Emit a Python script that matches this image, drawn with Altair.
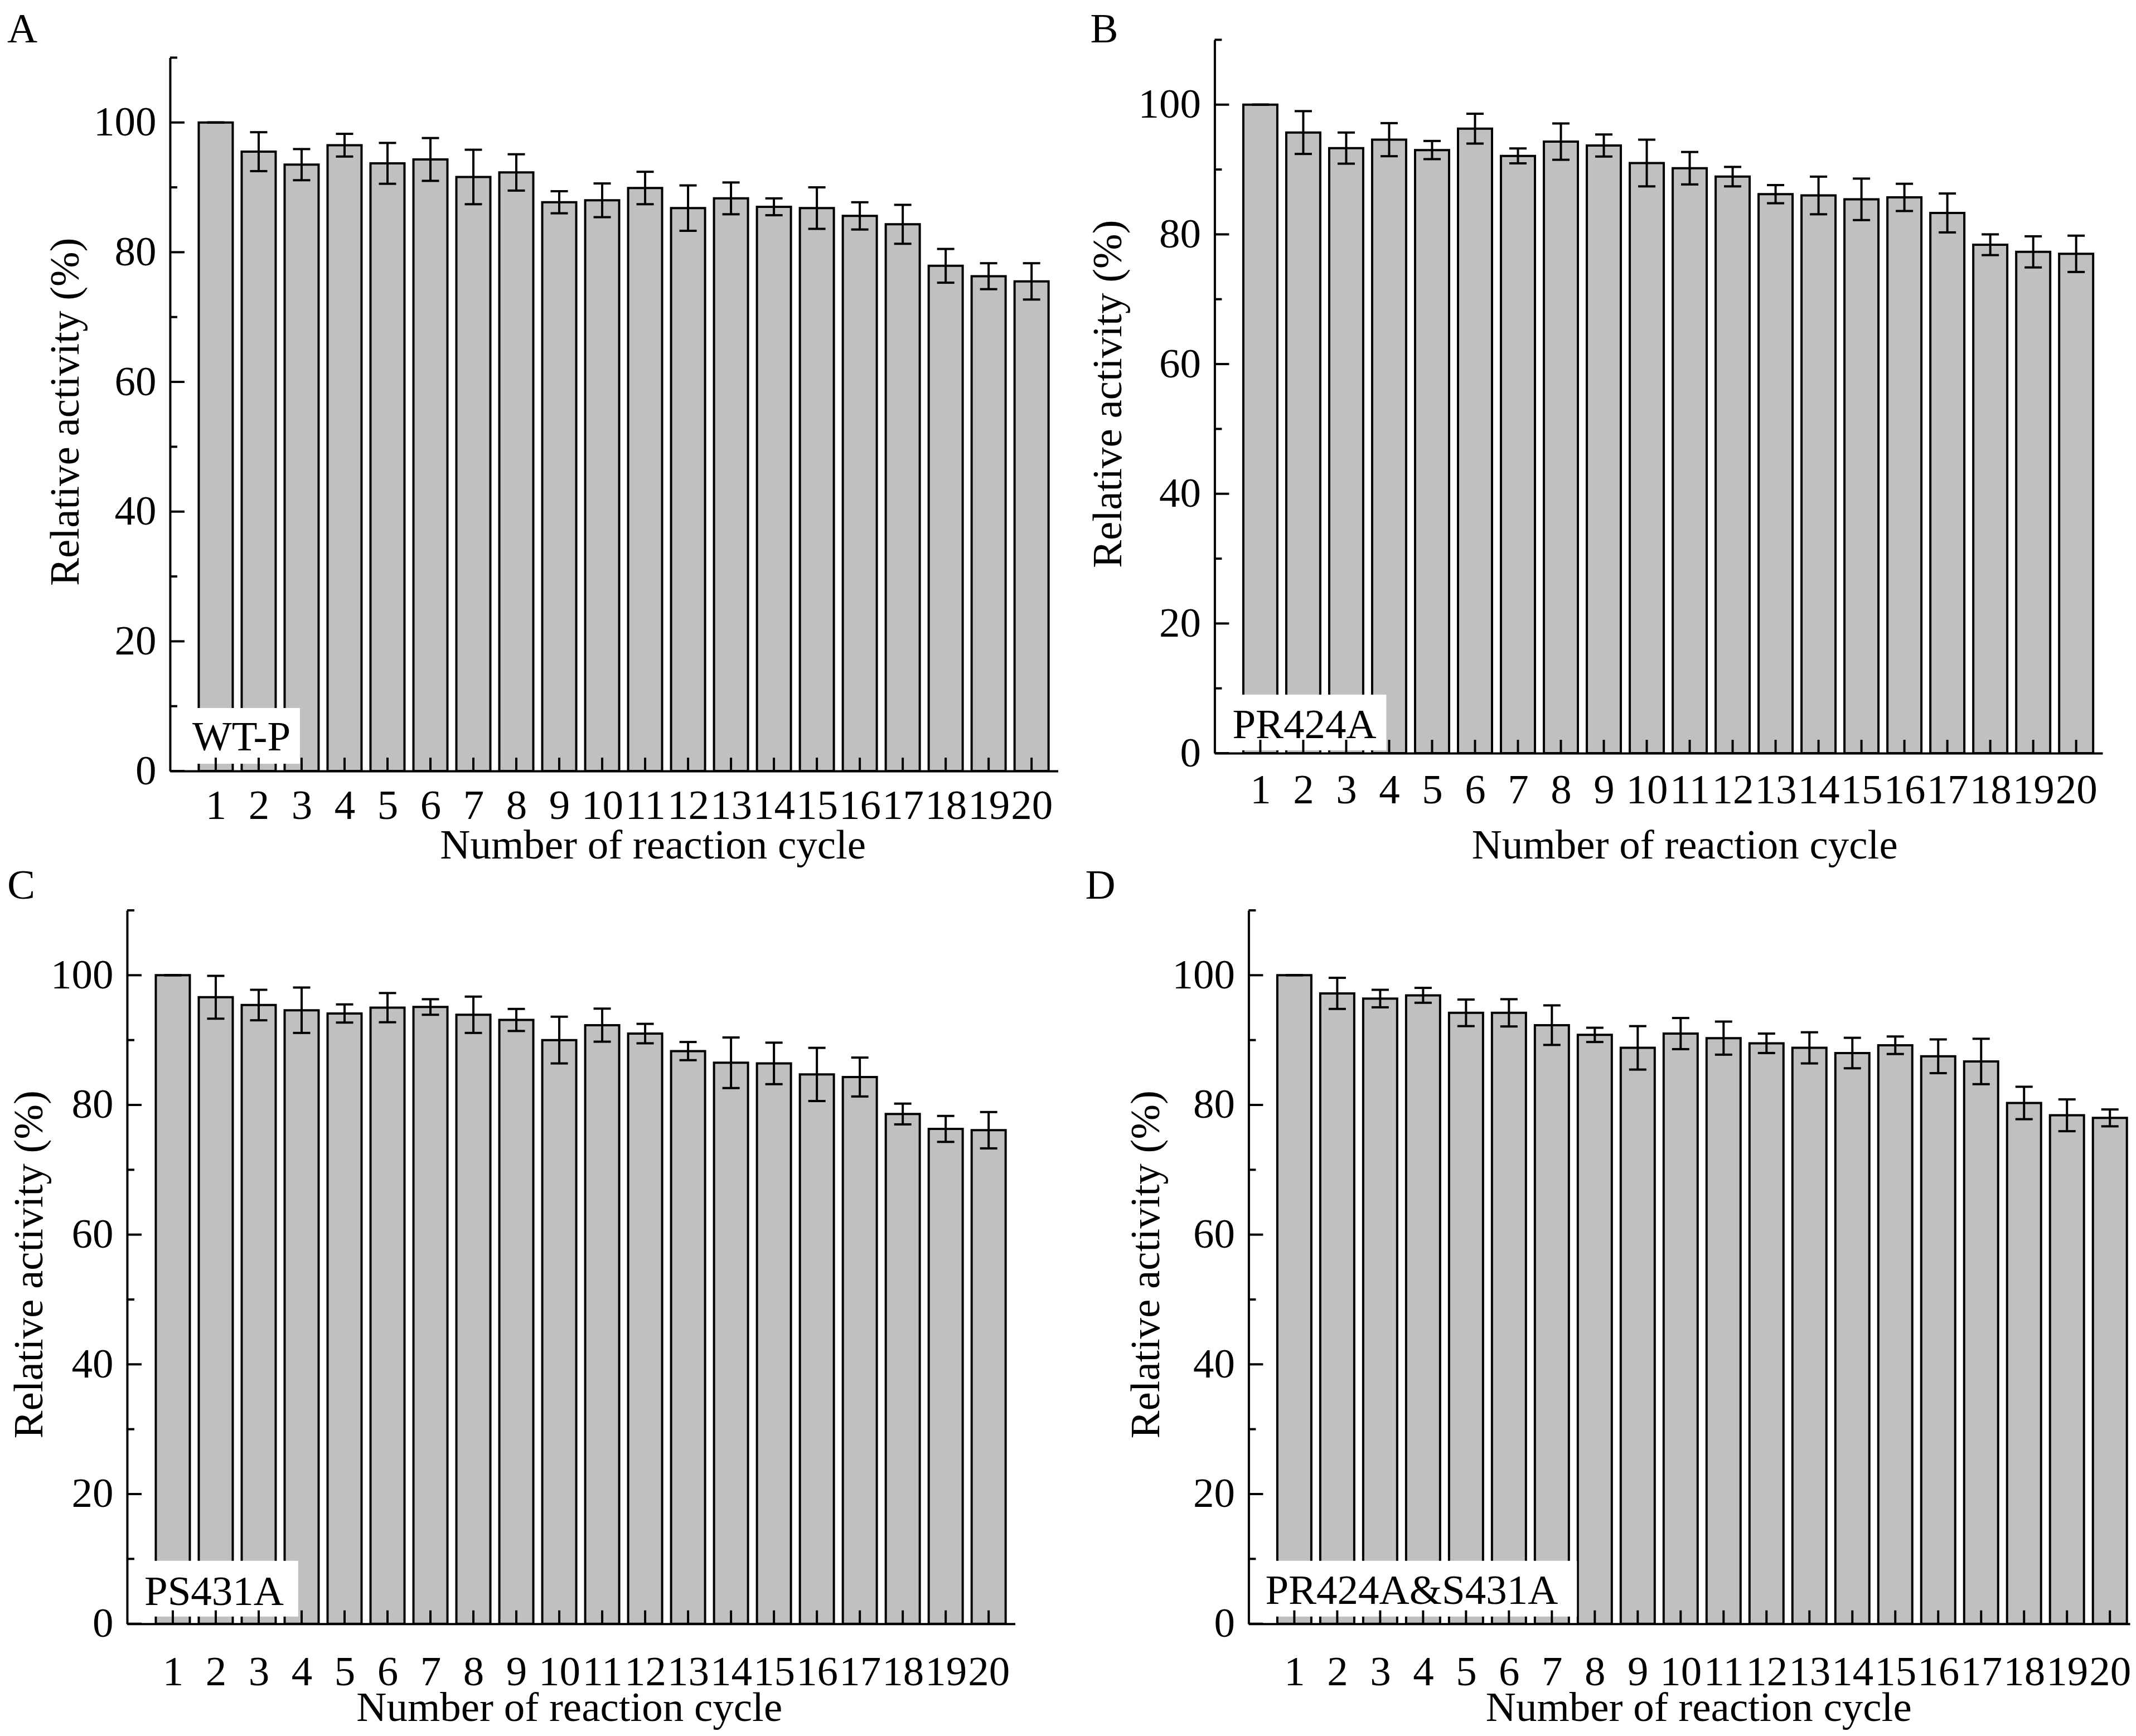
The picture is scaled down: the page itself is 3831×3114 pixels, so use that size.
import altair as alt
import pandas as pd

# reaction cycles 1..20
cycles = list(range(1, 21))

# relative activity (%) and error (+/-)
wt_mean = [100, 95.5, 93.5, 96.5, 93.7, 94.3, 91.6, 92.3, 87.7, 88.0,
           89.9, 86.8, 88.3, 87.0, 86.8, 85.6, 84.3, 77.9, 76.3, 75.5]
wt_err = [0, 3.0, 2.4, 1.75, 3.15, 3.3, 4.2, 2.8, 1.7, 2.6,
          2.5, 3.5, 2.45, 1.3, 3.2, 2.1, 3.0, 2.6, 2.0, 2.8]

r424_mean = [100, 95.7, 93.3, 94.6, 93.0, 96.3, 92.1, 94.3, 93.7, 91.0,
             90.2, 88.9, 86.2, 86.0, 85.4, 85.7, 83.3, 78.4, 77.3, 77.0]
r424_err = [0, 3.3, 2.4, 2.55, 1.4, 2.3, 1.15, 2.8, 1.7, 3.6,
            2.5, 1.5, 1.4, 2.9, 3.2, 2.1, 3.0, 1.6, 2.4, 2.8]

s431_mean = [100, 96.6, 95.4, 94.6, 94.1, 95.0, 95.1, 93.9, 93.1, 90.0,
             92.3, 91.0, 88.3, 86.5, 86.4, 84.7, 84.3, 78.6, 76.3, 76.1]
s431_err = [0, 3.3, 2.35, 3.5, 1.4, 2.25, 1.2, 2.8, 1.7, 3.6,
            2.55, 1.5, 1.4, 3.9, 3.2, 4.1, 3.0, 1.6, 2.0, 2.8]

double_mean = [100, 97.2, 96.4, 96.9, 94.2, 94.2, 92.3, 90.8, 88.8, 91.0,
               90.3, 89.5, 88.8, 88.0, 89.2, 87.5, 86.7, 80.3, 78.4, 78.0]
double_err = [0, 2.4, 1.35, 1.15, 2.05, 2.1, 3.05, 1.1, 3.35, 2.4,
              2.55, 1.5, 2.4, 2.35, 1.35, 2.6, 3.5, 2.5, 2.45, 1.3]

y_major = [0, 20, 40, 60, 80, 100]
y_minor = [10, 30, 50, 70, 90, 110]

FONT = "Liberation Serif"
FS = 75
H = 1280
PX = 77.52  # pixels per cycle


def make_panel(mean, err, letter, label, xmax, ox, oy, letter_pos, box, text_pos,
               label_pad, xtitle_pos, ytitle_x, anchor=None):
    # ox, oy: where the axes corner sits inside the panel group
    W = round(xmax * PX)
    df = pd.DataFrame({"cycle": cycles, "mean": mean, "err": err})
    df["lo"] = df["mean"] - df["err"]
    df["hi"] = df["mean"] + df["err"]

    xscale = alt.Scale(domain=[0, xmax], range=[ox, ox + W], nice=False, zero=False)
    yscale = alt.Scale(domain=[0, 110], range=[oy + H, oy], nice=False)
    common = dict(ticks=False, tickSize=0, grid=False, domainColor="black",
                  domainWidth=4, labelFont=FONT, labelFontSize=FS,
                  labelColor="black", labelFlush=False, labelOverlap=False,
                  titleFont=FONT, titleFontSize=FS, titleFontWeight="normal",
                  titleColor="black", titleBaseline="alphabetic",
                  titleAlign="center", zindex=1)
    xaxis = alt.Axis(values=cycles, format="d", title="Number of reaction cycle",
                     labelPadding=label_pad, labelBaseline="alphabetic",
                     titleX=ox + xtitle_pos[0], titleY=xtitle_pos[1], **common)
    yaxis = alt.Axis(values=y_major, format="d", title="Relative activity (%)",
                     labelPadding=25, labelBaseline="middle", offset=-ox,
                     titleX=ytitle_x, titleY=oy + 635, titleAngle=270, **common)

    def X(f):
        return alt.X(f, type="quantitative", scale=xscale, axis=xaxis)

    def Y(f):
        return alt.Y(f, type="quantitative", scale=yscale, axis=yaxis)

    bars = alt.Chart(df).mark_bar(
        orient="vertical", width=61, fill="#c0c0c0", stroke="black", strokeWidth=4
    ).encode(x=X("cycle"), y=Y("mean"))

    stems = alt.Chart(df).mark_rule(color="black", strokeWidth=4).encode(
        x=X("cycle"), y=Y("lo"), y2="hi:Q")

    caps = alt.Chart(df).transform_fold(["lo", "hi"], as_=["end", "yv"]).mark_tick(
        orient="horizontal", color="black", size=31, thickness=4, opacity=1
    ).encode(x=X("cycle"), y=Y("yv"))

    lab = pd.DataFrame({"t": [label]})
    bottom = oy + H
    boxrect = alt.Chart(lab).mark_rect(color="white", opacity=1).encode(
        x=alt.value(ox + box[0]), x2=alt.value(ox + box[1]),
        y=alt.value(bottom + box[2]), y2=alt.value(bottom + box[3]))
    boxtext = alt.Chart(lab).mark_text(
        align="left", baseline="alphabetic", font=FONT, fontSize=FS, color="black"
    ).encode(x=alt.value(ox + text_pos[0]), y=alt.value(bottom + text_pos[1]), text="t:N")

    xticks = alt.Chart(df).mark_rule(color="black", strokeWidth=4).encode(
        x=X("cycle"), y=alt.value(bottom), y2=alt.value(bottom - 24))
    ymaj = alt.Chart(pd.DataFrame({"v": y_major})).mark_rule(
        color="black", strokeWidth=4).encode(y=Y("v"), x=alt.value(ox), x2=alt.value(ox + 26))
    ymin = alt.Chart(pd.DataFrame({"v": y_minor})).mark_rule(
        color="black", strokeWidth=4).encode(y=Y("v"), x=alt.value(ox), x2=alt.value(ox + 13))

    letter_t = alt.Chart(pd.DataFrame({"t": [letter]})).mark_text(
        align="left", baseline="alphabetic", font=FONT, fontSize=FS, color="black"
    ).encode(x=alt.value(ox + letter_pos[0]), y=alt.value(oy + letter_pos[1]), text="t:N")

    layers = [bars, stems, caps, boxrect, boxtext, xticks, ymaj, ymin, letter_t]
    if anchor is not None:
        # tiny white rule far outside the page: fixes the overall bounding box
        layers.append(alt.Chart(lab).mark_rule(color="white", strokeWidth=1).encode(
            x=alt.value(anchor[0]), x2=alt.value(anchor[0] + 1),
            y=alt.value(anchor[1]), y2=alt.value(anchor[1] + 1)))
    return alt.layer(*layers).properties(width=ox + W, height=oy + H)


pa = make_panel(wt_mean, wt_err, "A", "WT-P", 20.55, 0, 32, (-292, -27),
                (4, 233, -113, -13), (40, -37), 85, (866, 156), -164,
                anchor=(-600, -500))
pb = make_panel(r424_mean, r424_err, "B", "PR424A", 20.55, 0, 0, (-223, 5),
                (12, 308, -105, -5), (32, -27), 89, (843, 188), -168)
pc = make_panel(s431_mean, s431_err, "C", "PS431A", 20.55, -77, 0, (-215, -21),
                (9, 307, -113, -13), (31, -34), 110, (793, 174), -152)
pd_ = make_panel(double_mean, double_err, "D", "PR424A&S431A", 20.4, 61, 0, (-293, -21),
                 (17, 589, -113, -13), (30, -36), 110, (807, 174), -161,
                 anchor=(61 + round(20.4 * PX) + 400, H + 400))

chart = alt.concat(
    pa, pb, pc, pd_, columns=2, bounds="flush", align="each",
    spacing={"row": 250, "column": 281}
).properties(
    padding={"left": -304, "top": -438, "right": -399, "bottom": -208}
).configure(font=FONT).configure_view(strokeWidth=0)

chart.save("out.html", embed_options={"renderer": "svg", "actions": False})
